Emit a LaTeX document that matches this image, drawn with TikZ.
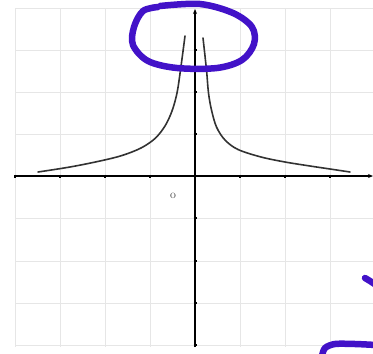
\documentclass[tikz,border=0pt]{standalone}
\usetikzlibrary{arrows.meta}
\definecolor{gridgray}{RGB}{230,230,230}
\definecolor{pen}{RGB}{66,18,200}
\definecolor{curvegray}{RGB}{50,50,50}
\begin{document}
\begin{tikzpicture}[x=1pt,y=-1pt,
  gridline/.style={gridgray,line width=1pt},
  axisline/.style={black,line width=1.3pt},
  tickmark/.style={black,line width=1.2pt},
  curveline/.style={curvegray,line width=1.6pt,line cap=round},
  marker/.style={pen,line width=6.5pt,line cap=round,line join=round}]
\useasboundingbox (0,0) rectangle (373,354);
% grid
\foreach \gx in {15,60,105,150,240,285,330}
  \draw[gridline] (\gx,8) -- (\gx,347);
\foreach \gy in {8,50,92,134,218,261,303,345}
  \draw[gridline] (15,\gy) -- (373,\gy);
% axes
\coordinate (xs) at (15,176);
\coordinate (xe) at (373,176);
\coordinate (ys) at (195,347);
\coordinate (ye) at (195,9);
\draw[axisline,-{Stealth[length=5pt,width=4pt]}] (xs) -- (xe);
\draw[axisline,-{Stealth[length=5pt,width=4pt]}] (ys) -- (ye);
\foreach \gx in {15,60,105,150,240,285,330}
  \draw[tickmark] (\gx,174.5) -- (\gx,178);
\foreach \gy in {50,92,134,218,261,303,345}
  \draw[tickmark] (193.5,\gy) -- (196.5,\gy);
% label
\node[font=\fontsize{12}{12}\selectfont,text=black!75,inner sep=0pt] (lbl) at (173,196) {o};
% curves
\draw[curveline] plot[smooth,tension=0.55] coordinates {(38,172) (70,167) (100,161) (122,155.5) (141,148) (155,138.5) (165,126) (172,111) (177,93) (180.5,70) (185,36)};
\draw[curveline] plot[smooth,tension=0.55] coordinates {(203,38) (206.5,70) (208.5,93) (211.5,110) (216.5,127) (225,140) (238,149.5) (261,157) (285,162) (310,166) (330,169) (350,172)};
% hand-drawn marker
\draw[marker] plot[smooth,tension=0.55] coordinates {(160,6) (200,4) (233,13) (252,27) (254,44) (242,60) (217,68) (177,68) (148,61) (133,45) (134,27) (143,11) (158,7)};
\draw[marker] plot[smooth,tension=0.5] coordinates {(365,278) (370,281) (376,285)};
\draw[marker] plot[smooth,tension=0.5] coordinates {(322,356) (325,348) (335,344) (355,344) (376,345)};
\end{tikzpicture}
\end{document}
